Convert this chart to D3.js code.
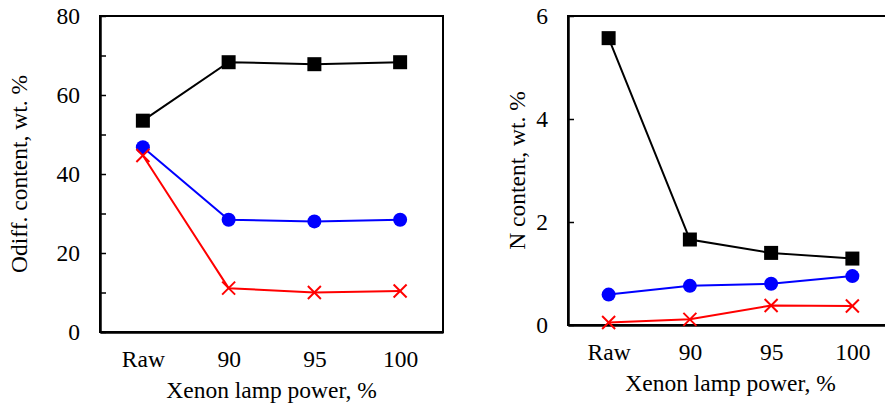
<!DOCTYPE html>
<html>
<head>
<meta charset="utf-8">
<script src="https://cdn.jsdelivr.net/npm/d3@7"></script>
<style>
  html, body { margin: 0; padding: 0; background: #fff; }
</style>
</head>
<body>
<svg id="chart" width="885" height="408"></svg>
<script>
// Sample categories (xenon lamp power)
const categories = ["Raw", "90", "95", "100"];

// Left panel: O_diff content, wt. %
const oBlack = [53.5, 68.3, 67.8, 68.3];
const oBlue  = [46.8, 28.4, 28.0, 28.4];
const oRed   = [44.7, 11.1, 10.0, 10.4];
const oTicks = [0, 10, 20, 30, 40, 50, 60, 70, 80];

// Right panel: N content, wt. %
const nBlack = [5.57, 1.66, 1.40, 1.29];
const nBlue  = [0.59, 0.76, 0.80, 0.95];
const nRed   = [0.05, 0.11, 0.38, 0.37];
const nTicks = [0, 2, 4, 6];

const svg = d3.select("#chart");
const FONT = 23.5;
const SERIF = "'Liberation Serif', 'Times New Roman', Times, 'DejaVu Serif', serif";

function styleText(sel) {
  return sel.style("font-family", SERIF).style("font-size", FONT + "px").style("fill", "#000");
}

function panel(cfg) {
  const g = svg.append("g");
  const x = d3.scalePoint().domain(categories).range([cfg.x0, cfg.x1]).padding(0.5);
  const y = d3.scaleLinear().domain(cfg.yDomain).range([cfg.y1, cfg.y0]);

  // frame
  g.append("rect")
    .attr("x", cfg.x0).attr("y", cfg.y0)
    .attr("width", cfg.x1 - cfg.x0).attr("height", cfg.y1 - cfg.y0)
    .attr("fill", "none").attr("stroke", "#000").attr("stroke-width", 2);

  // y axis with inward ticks
  const yAxis = d3.axisLeft(y)
    .tickValues(cfg.yTicks)
    .tickSizeInner(-6).tickSizeOuter(0)
    .tickPadding(20)
    .tickFormat(cfg.yFormat);
  const ya = g.append("g").attr("transform", `translate(${cfg.x0},0)`).call(yAxis);
  ya.select(".domain").attr("stroke-width", 2.5);
  ya.selectAll(".tick line").attr("stroke-width", 1.5);
  styleText(ya.selectAll(".tick text")).attr("dy", "0.32em");

  // x axis labels only
  const xAxis = d3.axisBottom(x).tickSize(0).tickPadding(18.5);
  const xa = g.append("g").attr("transform", `translate(0,${cfg.y1})`).call(xAxis);
  xa.select(".domain").attr("stroke-width", 2.5);
  styleText(xa.selectAll(".tick text")).attr("dy", "0.71em");

  // axis titles
  styleText(g.append("text")
    .attr("x", (cfg.x0 + cfg.x1) / 2).attr("y", cfg.y1 + 66)
    .attr("text-anchor", "middle"))
    .text("Xenon lamp power, %");
  styleText(g.append("text")
    .attr("transform", `translate(${cfg.yLabelX},${(cfg.y0 + cfg.y1) / 2}) rotate(-90)`)
    .attr("text-anchor", "middle"))
    .text(cfg.yLabel);

  const line = d3.line().x((d, i) => x(categories[i])).y(d => y(d));

  // black squares
  g.append("path").datum(cfg.black).attr("d", line)
    .attr("fill", "none").attr("stroke", "#000").attr("stroke-width", 2);
  g.selectAll(".sq").data(cfg.black).join("rect")
    .attr("x", (d, i) => x(categories[i]) - 7).attr("y", d => y(d) - 7)
    .attr("width", 14).attr("height", 14).attr("fill", "#000");

  // blue circles
  g.append("path").datum(cfg.blue).attr("d", line)
    .attr("fill", "none").attr("stroke", "#0000ff").attr("stroke-width", 2);
  g.selectAll(".ci").data(cfg.blue).join("circle")
    .attr("cx", (d, i) => x(categories[i])).attr("cy", d => y(d))
    .attr("r", 7).attr("fill", "#0000ff");

  // red crosses
  g.append("path").datum(cfg.red).attr("d", line)
    .attr("fill", "none").attr("stroke", "#ff0000").attr("stroke-width", 2);
  const cross = g.selectAll(".cr").data(cfg.red).join("g")
    .attr("transform", (d, i) => `translate(${x(categories[i])},${y(d)})`);
  cross.append("line").attr("x1", -6.5).attr("y1", -6.5).attr("x2", 6.5).attr("y2", 6.5)
    .attr("stroke", "#ff0000").attr("stroke-width", 2);
  cross.append("line").attr("x1", -6.5).attr("y1", 6.5).attr("x2", 6.5).attr("y2", -6.5)
    .attr("stroke", "#ff0000").attr("stroke-width", 2);
}

panel({
  x0: 100, x1: 443, y0: 16, y1: 332,
  yDomain: [0, 80], yTicks: oTicks,
  yFormat: d => (d % 20 === 0 ? d : ""),
  yLabel: "Odiff. content, wt. %", yLabelX: 27,
  black: oBlack, blue: oBlue, red: oRed
});

panel({
  x0: 568, x1: 893, y0: 16, y1: 325,
  yDomain: [0, 6], yTicks: nTicks,
  yFormat: d => d,
  yLabel: "N content, wt. %", yLabelX: 525,
  black: nBlack, blue: nBlue, red: nRed
});
</script>
</body>
</html>
